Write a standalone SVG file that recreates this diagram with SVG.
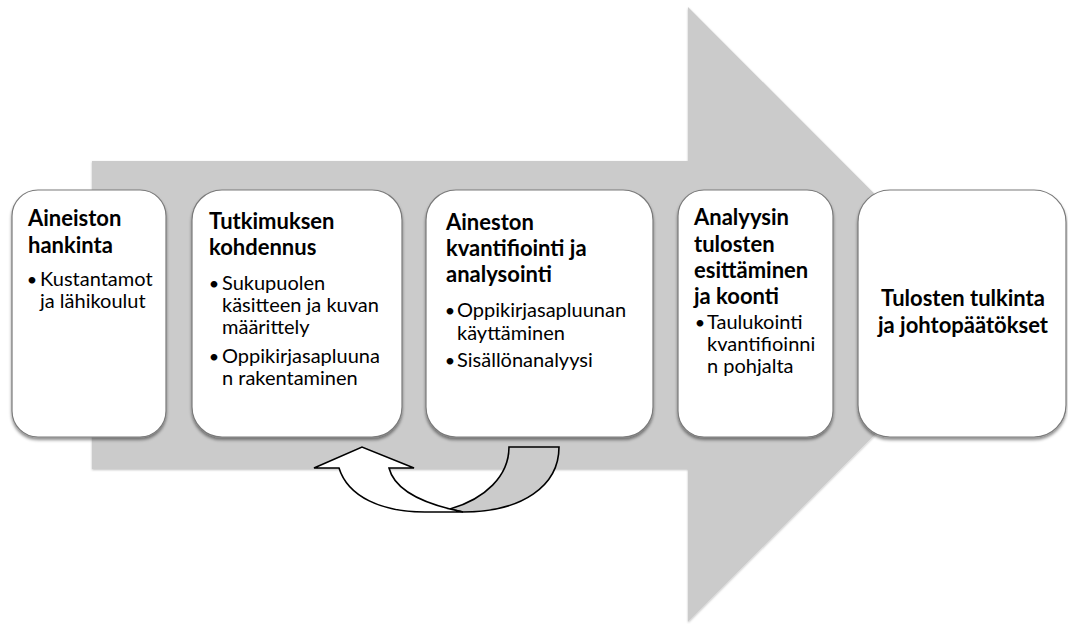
<svg xmlns="http://www.w3.org/2000/svg" width="1068" height="624" viewBox="0 0 1068 624">
  <defs>
    <filter id="sh" x="-10%" y="-10%" width="120%" height="125%">
      <feDropShadow dx="0" dy="2.5" stdDeviation="1.8" flood-color="#000" flood-opacity="0.45"/>
    </filter>
    <filter id="ash" x="-5%" y="-5%" width="110%" height="110%">
      <feDropShadow dx="0" dy="1" stdDeviation="1.2" flood-color="#000" flood-opacity="0.25"/>
    </filter>
  </defs>
  <style>
    .box { fill: #ffffff; stroke: #7a7a7a; stroke-width: 1.2; filter: url(#sh); }
    .t { font-family: Lato, "Liberation Sans", sans-serif; font-weight: bold; font-size: 22px; fill: #000; }
    .b { font-family: Lato, "Liberation Sans", sans-serif; font-size: 20px; fill: #000; }
    .dot { font-family: Lato, "Liberation Sans", sans-serif; font-size: 18px; fill: #000; text-anchor: middle; }
    .uturn { stroke: #000; stroke-width: 1.6; stroke-linejoin: miter; }
  </style>
  <rect width="1068" height="624" fill="#ffffff"/>

  <!-- big background arrow -->
  <g id="big-arrow">
    <path d="M92,161 L688,161 L688,7 L995,314.5 L688,622 L688,469 L92,469 Z" fill="#cbcbcb" filter="url(#ash)"/>
  </g>

  <g id="node1">
    <rect class="box" x="12" y="190" width="154" height="247" rx="26" ry="26"/>
    <text class="t" x="28" y="226">Aineiston</text>
    <text class="t" x="28" y="253">hankinta</text>
    <text class="dot" x="32" y="286">•</text>
    <text class="b" x="40" y="286">Kustantamot</text>
    <text class="b" x="40" y="308">ja lähikoulut</text>
  </g>

  <g id="node2">
    <rect class="box" x="192" y="190" width="210" height="247" rx="30" ry="30"/>
    <text class="t" x="209" y="229">Tutkimuksen</text>
    <text class="t" x="209" y="255">kohdennus</text>
    <text class="dot" x="214" y="290">•</text>
    <text class="b" x="222" y="290">Sukupuolen</text>
    <text class="b" x="222" y="312">käsitteen ja kuvan</text>
    <text class="b" x="222" y="334">määrittely</text>
    <text class="dot" x="214" y="363">•</text>
    <text class="b" x="222" y="363">Oppikirjasapluuna</text>
    <text class="b" x="222" y="385">n rakentaminen</text>
  </g>

  <g id="node3">
    <rect class="box" x="426" y="190" width="227" height="247" rx="30" ry="30"/>
    <text class="t" x="446" y="230">Aineston</text>
    <text class="t" x="446" y="256">kvantifiointi ja</text>
    <text class="t" x="446" y="282">analysointi</text>
    <text class="dot" x="450" y="317">•</text>
    <text class="b" x="457" y="317">Oppikirjasapluunan</text>
    <text class="b" x="457" y="340">käyttäminen</text>
    <text class="dot" x="450" y="367">•</text>
    <text class="b" x="457" y="367">Sisällönanalyysi</text>
  </g>

  <g id="node4">
    <rect class="box" x="678" y="190" width="155" height="247" rx="26" ry="26"/>
    <text class="t" x="694" y="225">Analyysin</text>
    <text class="t" x="694" y="252">tulosten</text>
    <text class="t" x="694" y="278">esittäminen</text>
    <text class="t" x="694" y="304">ja koonti</text>
    <text class="dot" x="700" y="329">•</text>
    <text class="b" x="707" y="329">Taulukointi</text>
    <text class="b" x="707" y="351">kvantifioinni</text>
    <text class="b" x="707" y="373">n pohjalta</text>
  </g>

  <g id="node5">
    <rect class="box" x="858" y="190" width="208" height="247" rx="32" ry="32"/>
    <text class="t" x="963" y="306" text-anchor="middle">Tulosten tulkinta</text>
    <text class="t" x="963" y="333" text-anchor="middle">ja johtopäätökset</text>
  </g>

  <!-- connectors: U-turn arrow from node3 back to node2 -->
  <g id="connectors">
    <path class="uturn" fill="#cbcbcb" d="M509,447 L559,447 C559,486 522,512 463,512 L450,509 C485,499 509,476 509,447 Z"/>
    <path class="uturn" fill="#ffffff" d="M339,468 C348,497 382,512 425,512 L463,512 L450,509 C418,501 394,488 389,468 L414,468 L362,447 L314,468 Z"/>
  </g>
</svg>
